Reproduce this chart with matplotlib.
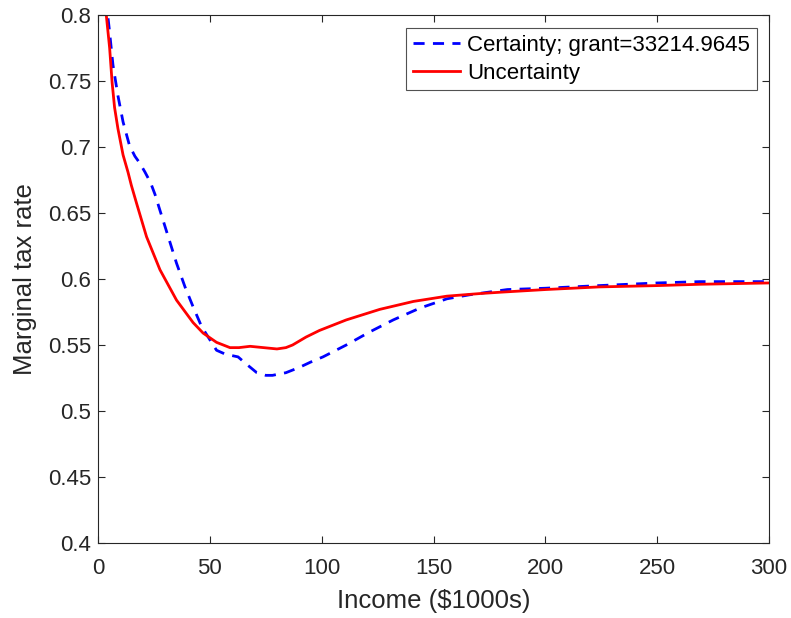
import matplotlib
matplotlib.use("Agg")
import matplotlib.pyplot as plt

plt.rcParams['font.family'] = ['Liberation Sans', 'DejaVu Sans']

# Certainty curve (income in $1000s, marginal tax rate)
cert_x = [3, 5, 6.7, 8.9, 11.2, 14.1, 16.5, 18.6, 21, 23.5, 25.5, 27.7, 31.4, 35.1, 38.9,
          42.5, 46.3, 50, 53, 57, 62.6, 66, 71, 75, 78, 84, 90, 95, 100.6, 111, 121.6,
          132, 144, 156, 166, 183, 200, 224, 250, 269, 285, 300]
cert_y = [0.82, 0.79, 0.762, 0.739, 0.719, 0.701, 0.693, 0.688, 0.681, 0.673, 0.664, 0.652,
          0.632, 0.612, 0.594, 0.579, 0.564, 0.554, 0.546, 0.543, 0.541, 0.536, 0.529,
          0.527, 0.527, 0.529, 0.533, 0.537, 0.541, 0.550, 0.560, 0.569, 0.578, 0.585,
          0.588, 0.592, 0.593, 0.595, 0.597, 0.598, 0.598, 0.598]

# Uncertainty curve
unc_x = [3, 3.7, 5.2, 6.3, 7.4, 8.9, 11.2, 13.4, 14.9, 17.3, 21.7, 27.7, 35.1, 42.5, 47,
         53, 59, 63, 68, 74, 80, 84, 87, 93, 99, 111, 126, 141, 156, 171, 180, 200,
         224, 250, 269, 300]
unc_y = [0.81, 0.80, 0.775, 0.749, 0.730, 0.714, 0.694, 0.681, 0.671, 0.657, 0.632, 0.607,
         0.584, 0.567, 0.559, 0.552, 0.548, 0.548, 0.549, 0.548, 0.547, 0.548, 0.550,
         0.556, 0.561, 0.569, 0.577, 0.583, 0.587, 0.589, 0.590, 0.592, 0.594, 0.595,
         0.596, 0.597]

fig = plt.figure(figsize=(7.91, 6.18), dpi=100)
ax = fig.add_axes([0.1239, 0.1214, 0.8483, 0.8543])

ax.plot(cert_x, cert_y, '--', color='#0000ff', linewidth=2.0, dashes=(4, 3),
        label='Certainty; grant=33214.9645')
ax.plot(unc_x, unc_y, '-', color='#ff0000', linewidth=2.0, label='Uncertainty')

ax.set_xlim(0, 300)
ax.set_ylim(0.4, 0.8)
ax.set_xticks([0, 50, 100, 150, 200, 250, 300])
ax.set_yticks([0.4, 0.45, 0.5, 0.55, 0.6, 0.65, 0.7, 0.75, 0.8])
ax.set_yticklabels(['0.4', '0.45', '0.5', '0.55', '0.6', '0.65', '0.7', '0.75', '0.8'])
ax.tick_params(direction='in', top=True, right=True, length=5, width=0.8,
               color='#262626', labelsize=16, labelcolor='#262626')
ax.tick_params(axis='x', pad=11)
ax.tick_params(axis='y', pad=5)
for s in ax.spines.values():
    s.set_color('#262626')
    s.set_linewidth(0.8)

ax.set_xlabel('Income ($1000s)', fontsize=18.5, color='#262626', labelpad=7)
ax.set_ylabel('Marginal tax rate', fontsize=18.5, color='#262626', labelpad=8)

leg = ax.legend(loc='upper right', bbox_to_anchor=(0.982, 0.975), fontsize=16,
                frameon=True, fancybox=False, handlelength=2.1, borderpad=0.3,
                labelspacing=0.3, handletextpad=0.35, borderaxespad=0)
leg.get_frame().set_edgecolor('#262626')
leg.get_frame().set_linewidth(0.8)

fig.savefig('out.png', dpi=100)
